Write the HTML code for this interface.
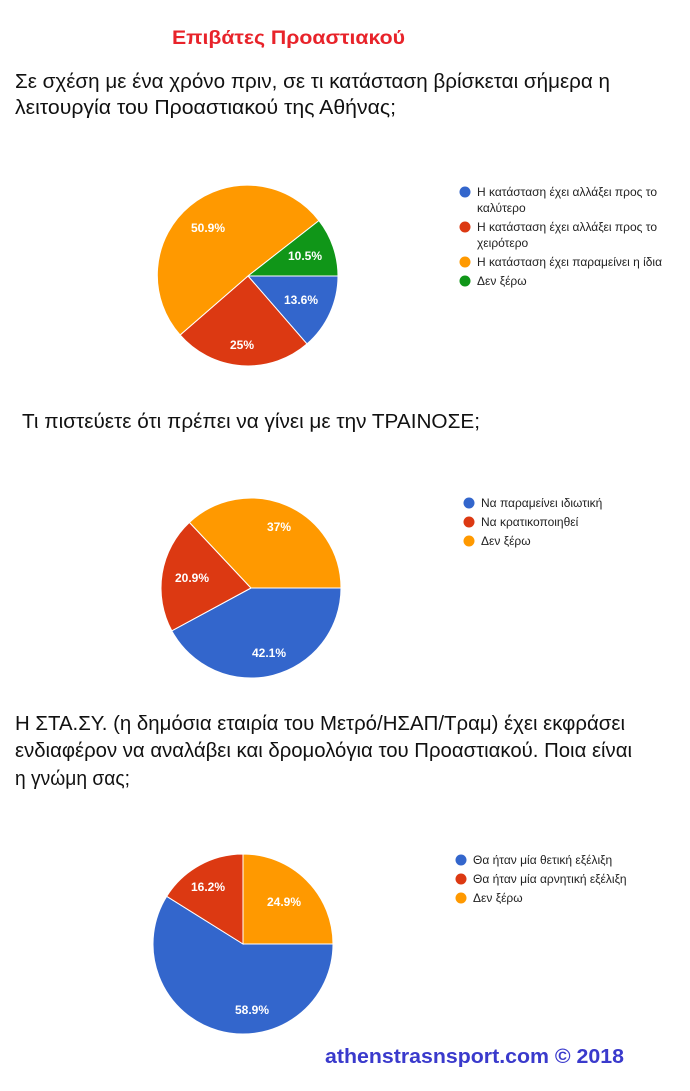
<!DOCTYPE html>
<html><head><meta charset="utf-8"><style>
html,body{margin:0;padding:0;background:#fff;}
svg{display:block;font-family:"Liberation Sans",sans-serif;}
.q{font-size:20px;fill:#111;}
.lg{font-size:12px;fill:#222;}
.pl{font-size:12px;fill:#fff;font-weight:bold;text-anchor:middle;}
</style></head><body>
<svg width="690" height="1091" viewBox="0 0 690 1091">
<text x="172" y="44" font-size="19" font-weight="bold" fill="#e8232a" textLength="233" lengthAdjust="spacingAndGlyphs">Επιβάτες Προαστιακού</text>
<text class="q" x="15" y="88" textLength="595" lengthAdjust="spacingAndGlyphs">Σε σχέση με ένα χρόνο πριν, σε τι κατάσταση βρίσκεται σήμερα η</text>
<text class="q" x="15" y="114" textLength="381" lengthAdjust="spacingAndGlyphs">λειτουργία του Προαστιακού της Αθήνας;</text>

<g stroke="#fff" stroke-width="1">
<path d="M248,276 L338,276 A90,90 0 0 1 307,343.9 Z" fill="#3366cc"/>
<path d="M248,276 L307,343.9 A90,90 0 0 1 180.1,335 Z" fill="#dc3912"/>
<path d="M248,276 L180.1,335 A90,90 0 1 1 318.9,220.6 Z" fill="#ff9900"/>
<path d="M248,276 L318.9,220.6 A90,90 0 0 1 338,276 Z" fill="#109618"/>
</g>
<text class="pl" x="301" y="304">13.6%</text>
<text class="pl" x="242" y="349">25%</text>
<text class="pl" x="208" y="232">50.9%</text>
<text class="pl" x="305" y="260">10.5%</text>
<circle cx="465" cy="192" r="5.5" fill="#3366cc"/>
<circle cx="465" cy="227" r="5.5" fill="#dc3912"/>
<circle cx="465" cy="262" r="5.5" fill="#ff9900"/>
<circle cx="465" cy="281" r="5.5" fill="#109618"/>
<text class="lg" x="477" y="196" textLength="180" lengthAdjust="spacingAndGlyphs">Η κατάσταση έχει αλλάξει προς το</text>
<text class="lg" x="477" y="212">καλύτερο</text>
<text class="lg" x="477" y="231" textLength="180" lengthAdjust="spacingAndGlyphs">Η κατάσταση έχει αλλάξει προς το</text>
<text class="lg" x="477" y="247">χειρότερο</text>
<text class="lg" x="477" y="266" textLength="185" lengthAdjust="spacingAndGlyphs">Η κατάσταση έχει παραμείνει η ίδια</text>
<text class="lg" x="477" y="285">Δεν ξέρω</text>

<text class="q" x="22" y="428" textLength="458" lengthAdjust="spacingAndGlyphs">Τι πιστεύετε ότι πρέπει να γίνει με την ΤΡΑΙΝΟΣΕ;</text>
<g stroke="#fff" stroke-width="1">
<path d="M251,588 L341,588 A90,90 0 0 1 171.8,630.8 Z" fill="#3366cc"/>
<path d="M251,588 L171.8,630.8 A90,90 0 0 1 189.4,522.4 Z" fill="#dc3912"/>
<path d="M251,588 L189.4,522.4 A90,90 0 0 1 341,588 Z" fill="#ff9900"/>
</g>
<text class="pl" x="269" y="657">42.1%</text>
<text class="pl" x="192" y="582">20.9%</text>
<text class="pl" x="279" y="531">37%</text>
<circle cx="469" cy="503" r="5.5" fill="#3366cc"/>
<circle cx="469" cy="522" r="5.5" fill="#dc3912"/>
<circle cx="469" cy="541" r="5.5" fill="#ff9900"/>
<text class="lg" x="481" y="507">Να παραμείνει ιδιωτική</text>
<text class="lg" x="481" y="526">Να κρατικοποιηθεί</text>
<text class="lg" x="481" y="545">Δεν ξέρω</text>

<text class="q" x="15" y="730" textLength="610" lengthAdjust="spacingAndGlyphs">Η ΣΤΑ.ΣΥ. (η δημόσια εταιρία του Μετρό/ΗΣΑΠ/Τραμ) έχει εκφράσει</text>
<text class="q" x="15" y="757" textLength="617" lengthAdjust="spacingAndGlyphs">ενδιαφέρον να αναλάβει και δρομολόγια του Προαστιακού. Ποια είναι</text>
<text class="q" x="15" y="785" textLength="115" lengthAdjust="spacingAndGlyphs">η γνώμη σας;</text>
<g stroke="#fff" stroke-width="1">
<path d="M243,944 L333,944 A90,90 0 1 1 166.7,896.3 Z" fill="#3366cc"/>
<path d="M243,944 L166.7,896.3 A90,90 0 0 1 243,854 Z" fill="#dc3912"/>
<path d="M243,944 L243,854 A90,90 0 0 1 333,944 Z" fill="#ff9900"/>
</g>
<text class="pl" x="252" y="1014">58.9%</text>
<text class="pl" x="208" y="891">16.2%</text>
<text class="pl" x="284" y="906">24.9%</text>
<circle cx="461" cy="860" r="5.5" fill="#3366cc"/>
<circle cx="461" cy="879" r="5.5" fill="#dc3912"/>
<circle cx="461" cy="898" r="5.5" fill="#ff9900"/>
<text class="lg" x="473" y="864">Θα ήταν μία θετική εξέλιξη</text>
<text class="lg" x="473" y="883">Θα ήταν μία αρνητική εξέλιξη</text>
<text class="lg" x="473" y="902">Δεν ξέρω</text>

<text x="325" y="1063" font-size="20" font-weight="bold" fill="#3a3acc" textLength="299" lengthAdjust="spacingAndGlyphs">athenstrasnsport.com © 2018</text>
</svg>
</body></html>
